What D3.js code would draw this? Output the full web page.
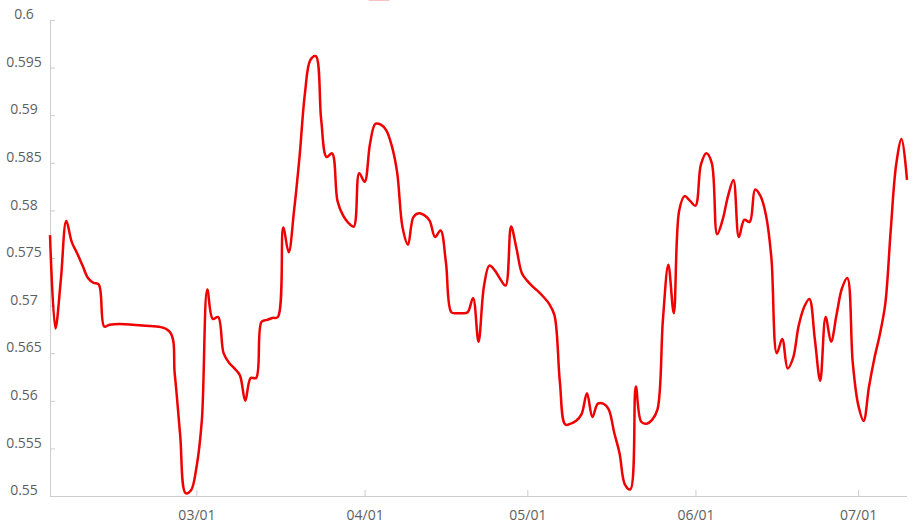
<!DOCTYPE html>
<html>
<head>
<meta charset="utf-8">
<script src="https://cdn.jsdelivr.net/npm/d3@7"></script>
<style>
  html, body { margin: 0; padding: 0; background: #fff; }
  svg { display: block; }
</style>
</head>
<body>
<svg id="chart" width="918" height="528"></svg>
<script>
const dates = [
  "2021-02-02","2021-02-03","2021-02-04","2021-02-05","2021-02-06","2021-02-07","2021-02-08","2021-02-09","2021-02-10","2021-02-11","2021-02-12","2021-02-13","2021-02-19","2021-02-24","2021-02-25","2021-02-26","2021-02-27","2021-02-28",
  "2021-03-01","2021-03-02","2021-03-03","2021-03-04","2021-03-05","2021-03-06","2021-03-07","2021-03-08","2021-03-09","2021-03-10","2021-03-11","2021-03-12","2021-03-13","2021-03-14","2021-03-15","2021-03-16","2021-03-17","2021-03-18","2021-03-19","2021-03-20","2021-03-21","2021-03-22","2021-03-23","2021-03-24","2021-03-25","2021-03-26","2021-03-27","2021-03-28","2021-03-29","2021-03-30","2021-03-31",
  "2021-04-01","2021-04-02","2021-04-03","2021-04-04","2021-04-05","2021-04-06","2021-04-07","2021-04-08","2021-04-09","2021-04-10","2021-04-11","2021-04-12","2021-04-13","2021-04-14","2021-04-15","2021-04-16","2021-04-17","2021-04-18","2021-04-19","2021-04-20","2021-04-21","2021-04-22","2021-04-23","2021-04-24","2021-04-25","2021-04-26","2021-04-27","2021-04-28","2021-04-29","2021-04-30",
  "2021-05-01","2021-05-02","2021-05-03","2021-05-04","2021-05-05","2021-05-06","2021-05-07","2021-05-08","2021-05-09","2021-05-10","2021-05-11","2021-05-12","2021-05-13","2021-05-14","2021-05-15","2021-05-16","2021-05-17","2021-05-18","2021-05-19","2021-05-20","2021-05-21","2021-05-22","2021-05-23","2021-05-24","2021-05-25","2021-05-26","2021-05-27","2021-05-28","2021-05-29","2021-05-30","2021-05-31",
  "2021-06-01","2021-06-02","2021-06-03","2021-06-04","2021-06-05","2021-06-06","2021-06-07","2021-06-08","2021-06-09","2021-06-10","2021-06-11","2021-06-12","2021-06-13","2021-06-14","2021-06-15","2021-06-16","2021-06-17","2021-06-18","2021-06-19","2021-06-20","2021-06-21","2021-06-22","2021-06-23","2021-06-24","2021-06-25","2021-06-26","2021-06-27","2021-06-28","2021-06-29","2021-06-30",
  "2021-07-01","2021-07-02","2021-07-03","2021-07-04","2021-07-05","2021-07-06","2021-07-07","2021-07-08","2021-07-09","2021-07-10"
];
const values = [
  0.5774,0.5676,0.5727,0.5789,0.5767,0.5755,0.5742,0.5729,0.5724,0.5722,0.5678,0.5680,0.5679,0.5673,0.5628,0.5564,0.5503,0.5506,
  0.5530,0.5580,0.5717,0.5686,0.5688,0.5650,0.5640,0.5634,0.5627,0.5600,0.5624,0.5624,0.5683,0.5685,0.5687,0.5688,0.5782,0.5756,0.5800,0.5856,0.5923,0.5958,0.5962,0.5895,0.5856,0.5860,0.5810,0.5795,0.5787,0.5783,0.5839,
  0.5830,0.5870,0.5891,0.5890,0.5884,0.5868,0.5840,0.5782,0.5764,0.5793,0.5797,0.5795,0.5789,0.5772,0.5779,0.5745,0.5693,0.5692,0.5692,0.5693,0.5708,0.5662,0.5720,0.5742,0.5737,0.5728,0.5721,0.5783,0.5760,0.5734,
  0.5726,0.5720,0.5715,0.5709,0.5702,0.5690,0.5620,0.5575,0.5576,0.5579,0.5586,0.5608,0.5583,0.5597,0.5597,0.5591,0.5567,0.5545,0.5512,0.5507,0.5615,0.5578,0.5576,0.5580,0.5591,0.5685,0.5743,0.5692,0.5800,0.5815,0.5810,
  0.5805,0.5848,0.5860,0.5850,0.5775,0.5790,0.5815,0.5832,0.5772,0.5790,0.5788,0.5822,0.5815,0.5795,0.5750,0.5650,0.5665,0.5634,0.5645,0.5678,0.5698,0.5707,0.5665,0.5621,0.5688,0.5662,0.5690,0.5718,0.5729,0.5640,
  0.5596,0.5579,0.5615,0.5645,0.5670,0.5702,0.5779,0.5848,0.5875,0.5832
];
const yTicks = [0.55, 0.555, 0.56, 0.565, 0.57, 0.575, 0.58, 0.585, 0.59, 0.595, 0.6];
const xTickDates = ["2021-03-01","2021-04-01","2021-05-01","2021-06-01","2021-07-01"];

const parse = d3.utcParse("%Y-%m-%d");
const data = dates.map((d, i) => ({ date: parse(d), value: values[i] }));

const svg = d3.select("#chart");
const plotLeft = 50, plotRight = 907, plotTop = 20, plotBottom = 496;

const x = d3.scaleUtc()
  .domain([parse(dates[0]), parse(dates[dates.length - 1])])
  .range([plotLeft, plotRight]);
const y = d3.scaleLinear().domain([0.55, 0.6]).range([plotBottom, plotTop]);

const axisColor = "#cccccc";
const textColor = "#5e5e5e";
const font = "'Open Sans', 'DejaVu Sans', sans-serif";

// legend remnant (cut off at the top)
svg.append("rect").attr("x", 368).attr("y", -9).attr("width", 22).attr("height", 10)
  .attr("rx", 2).attr("fill", "#f6c4c4");

// y axis
const yAxis = svg.append("g").attr("transform", `translate(${plotLeft},0)`)
  .call(d3.axisRight(y).tickValues(yTicks).tickSize(5).tickFormat(d3.format("")));
yAxis.select(".domain").attr("stroke", axisColor).attr("d", `M0.5,${plotTop}V${plotBottom}`);
yAxis.selectAll(".tick line").attr("stroke", axisColor);
yAxis.selectAll(".tick text")
  .attr("x", -26).attr("dy", "-0.1em").attr("text-anchor", "middle")
  .attr("fill", textColor).style("font-family", font).style("font-size", "14px");

// x axis
const xAxis = svg.append("g").attr("transform", `translate(0,${plotBottom})`)
  .call(d3.axisTop(x).tickValues(xTickDates.map(parse)).tickSize(6).tickFormat(d3.utcFormat("%m/%d")));
xAxis.select(".domain").attr("stroke", axisColor).attr("d", `M${plotLeft},0.5H${plotRight}`);
xAxis.selectAll(".tick line").attr("stroke", axisColor);
xAxis.selectAll(".tick text")
  .attr("y", 24).attr("dy", 0).attr("text-anchor", "middle")
  .attr("fill", textColor).style("font-family", font).style("font-size", "14px");

// line
const line = d3.line()
  .x(d => x(d.date))
  .y(d => y(d.value))
  .curve(d3.curveCatmullRom.alpha(0.5));

svg.append("path").datum(data)
  .attr("fill", "none")
  .attr("stroke", "#f00000")
  .attr("stroke-width", 2.5)
  .attr("stroke-linejoin", "round")
  .attr("d", line);
</script>
</body>
</html>
